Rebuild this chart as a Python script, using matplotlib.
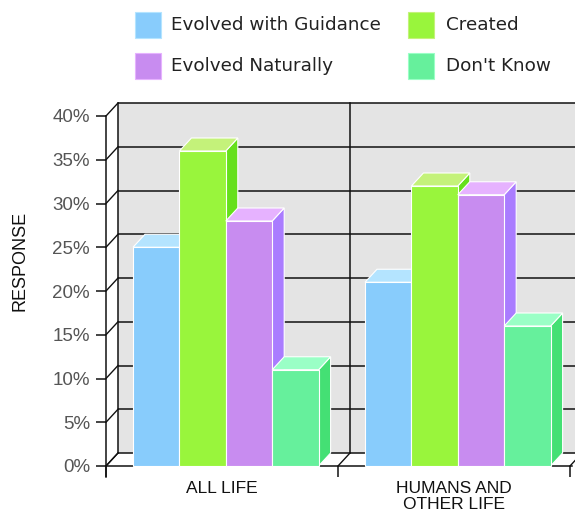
import matplotlib
matplotlib.use("Agg")
import matplotlib.pyplot as plt
from matplotlib.patches import Polygon, Rectangle

# ---- data ----
categories = ["ALL LIFE", "HUMANS AND\nOTHER LIFE"]
series_names = ["Evolved with Guidance", "Created", "Evolved Naturally", "Don't Know"]
guidance = [25, 21]
created = [36, 32]
naturally = [28, 31]
dont_know = [11, 16]
yticks = [0, 5, 10, 15, 20, 25, 30, 35, 40]
ytick_labels = ["0%", "5%", "10%", "15%", "20%", "25%", "30%", "35%", "40%"]

# ---- styling ----
front_cols = ["#88ccfc", "#99f53c", "#c88cf0", "#66f09c"]
top_cols = ["#b4e4ff", "#c4f27a", "#e6b2ff", "#9affc6"]
side_cols = ["#60b0f0", "#66e01c", "#aa7cff", "#44e074"]

W, H = 575, 516
fig = plt.figure(figsize=(W / 100, H / 100), dpi=100)
fig.patch.set_facecolor("white")

PX_X = 232.0   # px per category unit
PX_Y = 8.75    # px per percent
ax_left, ax_right, ax_top, ax_bot = 106, 575, 116, 477
ax = fig.add_axes([ax_left / W, (H - ax_bot) / H, (ax_right - ax_left) / W, (ax_bot - ax_top) / H])
ax.set_xlim(-0.5, -0.5 + (ax_right - ax_left) / PX_X)
ax.set_ylim(-(ax_bot - 466) / PX_Y, 40)
ax.set_facecolor("none")

dx = 12 / PX_X
dy = 13 / PX_Y
line_c = "#111111"
lw = 1.1

xmax = ax.get_xlim()[1] + 0.2
# back wall
ax.add_patch(Polygon([(-0.5 + dx, dy), (xmax, dy), (xmax, 40 + dy), (-0.5 + dx, 40 + dy)],
                     closed=True, fc="#e4e4e4", ec="none", zorder=0, clip_on=False))
# gridlines on back wall + left side connectors
for t in yticks:
    ax.plot([-0.5 + dx, xmax], [t + dy, t + dy], color=line_c, lw=lw, zorder=1, clip_on=False,
            solid_capstyle="butt")
    ax.plot([-0.5, -0.5 + dx], [t, t + dy], color=line_c, lw=lw * 0.9, zorder=1, clip_on=False)
# vertical lines on back wall at category boundaries
for b in [-0.5, 0.5, 1.5]:
    ax.plot([b + dx, b + dx], [dy, 40 + dy], color=line_c, lw=lw, zorder=1, clip_on=False)
    ax.plot([b, b + dx], [0, dy], color=line_c, lw=lw * 0.9, zorder=1, clip_on=False)

# bars
values = [guidance, created, naturally, dont_know]
bw = 0.2
margin = 27 / PX_X
for g in range(len(categories)):
    for i, vals in enumerate(values):
        h = vals[g]
        x0 = g - 0.5 + margin + i * bw
        x1 = x0 + bw
        side = Polygon([(x1, 0), (x1, h), (x1 + dx, h + dy), (x1 + dx, dy)], closed=True,
                       fc=side_cols[i], ec="white", lw=0.8, zorder=3 + 3 * i + 20 * g, clip_on=False)
        top = Polygon([(x0, h), (x1, h), (x1 + dx, h + dy), (x0 + dx, h + dy)], closed=True,
                      fc=top_cols[i], ec="white", lw=0.8, zorder=4 + 3 * i + 20 * g, clip_on=False)
        front = Rectangle((x0, 0), bw, h, fc=front_cols[i], ec="white", lw=0.8,
                          zorder=5 + 3 * i + 20 * g, clip_on=False)
        for p in (side, top, front):
            ax.add_patch(p)

# spines / axes
for s in ["top", "right"]:
    ax.spines[s].set_visible(False)
ax.spines["left"].set_color(line_c)
ax.spines["left"].set_linewidth(lw)
ax.spines["bottom"].set_position(("data", 0))
ax.spines["bottom"].set_bounds(-0.5, 1.509)
ax.spines["bottom"].set_color(line_c)
ax.spines["bottom"].set_linewidth(lw)
ax.spines["left"].set_zorder(2)
ax.spines["bottom"].set_zorder(2)

ax.set_yticks(yticks)
ax.set_yticklabels(ytick_labels)
ax.tick_params(axis="y", direction="out", length=7.2, width=lw, color=line_c,
               labelcolor="#555555", labelsize=13.5, pad=4.3)
for lab in ax.get_yticklabels():
    lab.set_fontfamily("Liberation Sans")

ax.set_xticks([-0.5, 0.5, 1.5])
ax.set_xticklabels(["", "", ""])
ax.set_xticks([0, 1], minor=True)
ax.set_xticklabels(categories, minor=True)
ax.tick_params(axis="x", which="major", direction="out", length=7.9, width=lw, color=line_c)
ax.tick_params(axis="x", which="minor", length=0, labelsize=12.5, labelcolor="#111111", pad=10.5)
for lab in ax.get_xticklabels(minor=True):
    lab.set_fontfamily("Liberation Sans")
    lab.set_linespacing(1.15)

fig.text(20 / W, 1 - 261 / H, "RESPONSE", rotation=90, ha="center", va="center",
         fontsize=13, family="Liberation Sans", color="#111111")

# legend (manual)
leg_pos = [(135, 12, 171), (135, 53, 171), (408, 12, 446), (408, 53, 446)]
leg_order = [0, 2, 1, 3]
for (sx, sy, tx), idx in zip(leg_pos, leg_order):
    fig.add_artist(Rectangle((sx / W, 1 - (sy + 26) / H), 26 / W, 26 / H, transform=fig.transFigure,
                             fc=front_cols[idx], ec=top_cols[idx], lw=0.8))
    fig.text(tx / W, 1 - (sy + 18) / H, series_names[idx], ha="left", va="baseline",
             fontsize=13.2, family="DejaVu Sans", color="#222222")

fig.savefig("out.png", dpi=100)
